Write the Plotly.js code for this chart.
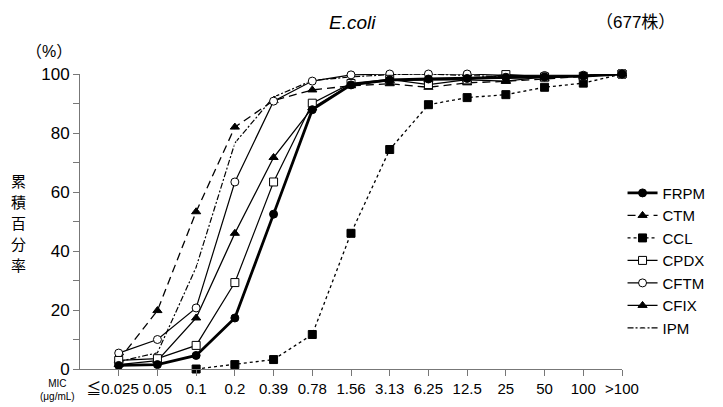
<!DOCTYPE html>
<html>
<head>
<meta charset="utf-8">
<script src="https://cdn.plot.ly/plotly-3.0.1.min.js"></script>
<style>html,body{margin:0;padding:0;background:#fff;}#chart{width:723px;height:407px;}</style>
</head>
<body>
<div id="chart"></div>
<script>
const labels = ["≦0.025","0.05","0.1","0.2","0.39","0.78","1.56","3.13","6.25","12.5","25","50","100",">100"];
const FRPM = [1.2, 1.5, 4.6, 17.3, 52.5, 87.9, 96.3, 98.0, 98.3, 98.5, 98.9, 99.0, 99.3, 100];
const CTM  = [3.0, 19.8, 53.3, 82.0, 91.0, 94.6, 96.0, 96.7, 95.5, 97.0, 97.5, 98.3, 99.0, 100];
const CCL  = [null, null, 0, 1.5, 3.2, 11.7, 46.0, 74.4, 89.6, 92.0, 93.0, 95.5, 96.9, 100];
const CPDX = [2.9, 3.5, 8.0, 29.3, 63.4, 90.1, 96.8, 98.2, 96.4, 98.0, 99.8, 99.0, 99.2, 100];
const CFTM = [5.4, 10.0, 20.7, 63.4, 90.8, 97.6, 99.7, 100, 100, 100, 99.5, 99.5, 99.6, 100];
const CFIX = [1.5, 2.8, 17.3, 46.0, 71.7, 88.5, 96.5, 97.8, 98.0, 98.0, 97.6, 99.0, 99.4, 100];
const IPM  = [2.5, 5.5, 34.5, 76.6, 92.2, 97.8, 99.0, 99.8, 100, 99.5, 99.0, 99.0, 99.5, 100];
const yTitleChars = ['累','積','百','分','率'];

const FONT = "Liberation Sans, Arial, Noto Sans CJK JP, sans-serif";
const CJK = "Liberation Sans, Noto Sans CJK JP, sans-serif";

// first label padded so it sits slightly left of its tick, as in the reference
const tickText = labels.map((t, i) => i === 0 ? t + '\u00a0\u00a0\u00a0' : t);

function tr(name, y, rank, lw, dash, sym, msize, fill) {
  return {
    type: 'scatter', mode: 'lines+markers', name: name, x: labels, y: y,
    legendrank: rank, cliponaxis: false, connectgaps: false,
    line: {color: '#000', width: lw, dash: dash},
    marker: {symbol: sym, size: msize, color: fill, line: {color: '#000', width: 1}}
  };
}

const data = [
  tr('CCL', CCL, 3, 1.3, '3px,3px', 'square', 8, '#000'),
  tr('IPM', IPM, 7, 1.2, '6px,2px,2px,2px', 'triangle-up-open', 8, '#fff'),
  tr('CTM', CTM, 2, 1.3, '8px,5px', 'triangle-up', 8, '#000'),
  tr('CFIX', CFIX, 6, 1.3, 'solid', 'triangle-up', 8, '#000'),
  tr('CFTM', CFTM, 5, 1.2, 'solid', 'circle', 8, '#fff'),
  tr('CPDX', CPDX, 4, 1.2, 'solid', 'square', 8, '#fff'),
  tr('FRPM', FRPM, 1, 2.8, 'solid', 'circle', 8, '#000')
];

// vertical (stacked) y-axis title, one character per line
const plotTop = 74, plotH = 295.5;
const yTitleAnns = yTitleChars.map((c, i) => ({
  text: c, xref: 'paper', yref: 'paper', x: -0.113,
  y: (plotTop + plotH - (181 + i * 21)) / plotH,
  showarrow: false, xanchor: 'center', yanchor: 'middle',
  font: {family: 'Noto Sans CJK JP, sans-serif', size: 15, color: '#000'}
}));

const layout = {
  width: 723, height: 407,
  margin: {l: 80, r: 98, t: 74, b: 37.5},
  paper_bgcolor: '#fff', plot_bgcolor: '#fff',
  font: {family: FONT, color: '#000', size: 15},
  showlegend: true,
  legend: {x: 1.001, xanchor: 'left', y: 0.652, yanchor: 'top',
           font: {family: FONT, size: 15, color: '#000'},
           bgcolor: 'rgba(0,0,0,0)', tracegroupgap: 0},
  xaxis: {type: 'category', categoryorder: 'array', categoryarray: labels,
          tickmode: 'array', tickvals: labels, ticktext: tickText,
          range: [-1, 13], showgrid: false, zeroline: false, tickangle: 0,
          showline: true, linecolor: '#777', linewidth: 1,
          ticks: 'outside', ticklen: 6, tickcolor: '#777', tickwidth: 1,
          tickfont: {family: FONT, size: 15, color: '#000'}, fixedrange: true},
  yaxis: {range: [0, 100], dtick: 20, showgrid: false, zeroline: false,
          showline: true, linecolor: '#777', linewidth: 1,
          ticks: 'outside', ticklen: 6, tickcolor: '#777', tickwidth: 1,
          minor: {dtick: 10, ticks: 'outside', ticklen: 6, tickcolor: '#777', showgrid: false},
          tickfont: {family: FONT, size: 17, color: '#000'}, fixedrange: true},
  annotations: [
    {text: '<i>E.coli</i>', xref: 'paper', yref: 'paper', x: 0.503, y: 1.175, showarrow: false,
     font: {family: FONT, size: 19, color: '#000'}, xanchor: 'center', yanchor: 'middle'},
    {text: '（677株）', xref: 'paper', yref: 'paper', x: 1.024, y: 1.175, showarrow: false,
     font: {family: CJK, size: 17, color: '#000'}, xanchor: 'center', yanchor: 'middle'},
    {text: '（%）', xref: 'paper', yref: 'paper', x: -0.058, y: 1.075, showarrow: false,
     font: {family: CJK, size: 16, color: '#000'}, xanchor: 'center', yanchor: 'middle'},
    {text: 'MIC<br>(μg/mL)', xref: 'paper', yref: 'paper', x: -0.042, y: -0.072, showarrow: false,
     font: {family: FONT, size: 10, color: '#000'}, xanchor: 'center', yanchor: 'middle'}
  ].concat(yTitleAnns)
};

Plotly.newPlot('chart', data, layout, {displayModeBar: false, staticPlot: true});
</script>
</body>
</html>
